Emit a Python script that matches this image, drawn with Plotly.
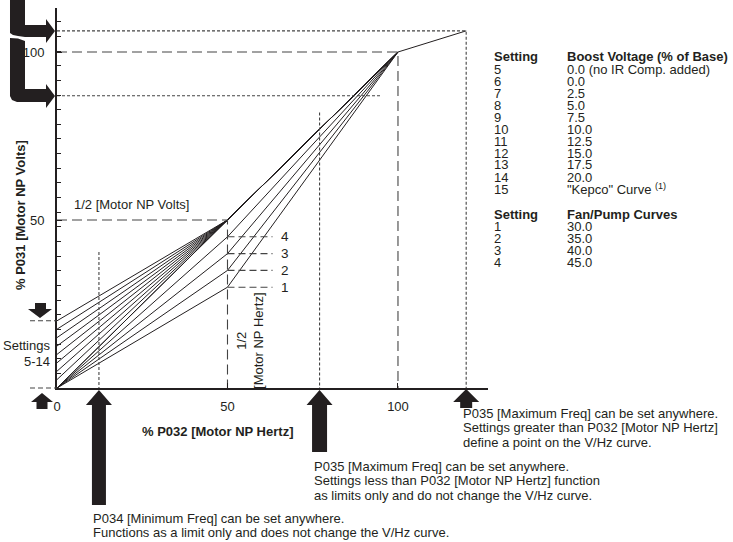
import plotly.graph_objects as go

# ---------------- data ----------------
boost_settings = ["5", "6", "7", "8", "9", "10", "11", "12", "13", "14", "15"]
boost_labels = ["0.0 (no IR Comp. added)", "0.0", "2.5", "5.0", "7.5", "10.0",
                "12.5", "15.0", "17.5", "20.0", "\"Kepco\" Curve <sup>(1)</sup>"]
boost_values = [0.0, 0.0, 2.5, 5.0, 7.5, 10.0, 12.5, 15.0, 17.5, 20.0]
fan_settings = ["1", "2", "3", "4"]
fan_labels = ["30.0", "35.0", "40.0", "45.0"]
fan_values = [30.0, 35.0, 40.0, 45.0]

half_hz, half_volts = 50, 50          # 1/2 motor NP Hertz / Volts
np_hz, np_volts = 100, 100            # motor NP Hertz / Volts
max_freq_hi, max_volts_hi = 120, 106.3   # P035 above NP Hz
max_freq_lo, max_freq_lo_top = 77, 82     # P035 below NP Hz
lo_volts_line, lo_volts_line_end = 87, 95
min_freq, min_freq_top = 12.3, 40.5

x_ticks = [0, 50, 100]
y_ticks = [50, 100]

# ---------------- layout geometry ----------------
W, H = 733, 542
ML, MR, MT, MB = 57, 245, 8, 154
PW, PH = W - ML - MR, H - MT - MB
X_MAX, Y_MAX = 126.4, 113.1
FONT = "Liberation Sans, Arial, Helvetica, sans-serif"
INK = "#231f20"


def px(x):  # pixel x -> paper
    return (x - ML) / PW


def py(y):  # pixel y -> paper
    return (H - MB - y) / PH


def dx(v):  # data x -> pixel x
    return ML + v / X_MAX * PW


fig = go.Figure()

# boost curves (settings 5-14)
for b in boost_values:
    fig.add_trace(go.Scatter(x=[0, half_hz, np_hz], y=[b, half_volts, np_volts],
                             mode="lines", line=dict(color=INK, width=1),
                             hoverinfo="skip", showlegend=False))
# fan/pump curves (settings 1-4)
for f in fan_values:
    fig.add_trace(go.Scatter(x=[0, half_hz, np_hz], y=[0, f, np_volts],
                             mode="lines", line=dict(color=INK, width=1),
                             hoverinfo="skip", showlegend=False))
# extension beyond NP Hz
fig.add_trace(go.Scatter(x=[np_hz, max_freq_hi], y=[np_volts, max_volts_hi],
                         mode="lines", line=dict(color=INK, width=1),
                         hoverinfo="skip", showlegend=False))


def guide(xs, ys, dash, color="#444", width=1.1):
    fig.add_trace(go.Scatter(x=xs, y=ys, mode="lines",
                             line=dict(color=color, width=width, dash=dash),
                             hoverinfo="skip", showlegend=False))


LONG = "10px,5px"
DOT = "3px,2px"
MID = "7px,4px"
guide([0, half_hz, half_hz], [half_volts, half_volts, 0], LONG)
guide([0, np_hz, np_hz], [np_volts, np_volts, 0], LONG)
guide([0, max_freq_hi, max_freq_hi], [max_volts_hi, max_volts_hi, 0], DOT)
guide([0, lo_volts_line_end], [lo_volts_line, lo_volts_line], DOT)
guide([max_freq_lo, max_freq_lo], [max_freq_lo_top, 0], DOT)
guide([min_freq, min_freq], [min_freq_top, 0], DOT)
for f in fan_values:
    guide([half_hz, half_hz + 13.2], [f, f], MID)

annotations = []
for s, f in zip(fan_settings, fan_values):
    annotations.append(dict(x=half_hz + 16.8, y=f, xref="x", yref="y", text=s,
                            showarrow=False, xanchor="center", yanchor="middle",
                            font=dict(size=13.5, color=INK)))
annotations.append(dict(x=4.4, y=54.5, xref="x", yref="y", text="1/2 [Motor NP Volts]",
                        showarrow=False, xanchor="left", yanchor="middle",
                        font=dict(size=13, color=INK)))
annotations.append(dict(x=half_hz + 6.8, y=14.2, xref="x", yref="y",
                        text="1/2<br>[Motor NP Hertz]", textangle=-90,
                        showarrow=False, xanchor="center", yanchor="middle",
                        font=dict(size=13, color=INK)))

# axis titles
annotations.append(dict(x=px(20), y=py(215), xref="paper", yref="paper",
                        text="<b>% P031 [Motor NP Volts]</b>", textangle=-90,
                        xanchor="center", yanchor="middle",
                        showarrow=False, font=dict(size=13, color=INK)))
annotations.append(dict(x=px(217), y=py(432), xref="paper", yref="paper",
                        text="<b>% P032 [Motor NP Hertz]</b>",
                        xanchor="center", yanchor="middle",
                        showarrow=False, font=dict(size=13, color=INK)))
annotations.append(dict(x=px(52), y=py(345), xref="paper", yref="paper",
                        text="Settings", xanchor="right", yanchor="middle",
                        showarrow=False, font=dict(size=13, color=INK)))
annotations.append(dict(x=px(52), y=py(361), xref="paper", yref="paper",
                        text="5-14", xanchor="right", yanchor="middle",
                        showarrow=False, font=dict(size=13, color=INK)))


def text_at(x, y, t, bold=False, size=13):
    annotations.append(dict(x=px(x), y=py(y), xref="paper", yref="paper",
                            text=f"<b>{t}</b>" if bold else t, xanchor="left",
                            yanchor="middle", showarrow=False, borderpad=0,
                            font=dict(size=size, color=INK)))


# right-hand table
text_at(493, 57, "Setting", bold=True)
text_at(566, 57, "Boost Voltage (% of Base)", bold=True)
for i, (s, lab) in enumerate(zip(boost_settings, boost_labels)):
    text_at(493, 69 + 12 * i, s)
    text_at(566, 69 + 12 * i, lab)
text_at(493, 214, "Setting", bold=True)
text_at(566, 214, "Fan/Pump Curves", bold=True)
for i, (s, lab) in enumerate(zip(fan_settings, fan_labels)):
    text_at(493, 226 + 12 * i, s)
    text_at(566, 226 + 12 * i, lab)

# notes
note_hi = ["P035 [Maximum Freq] can be set anywhere.",
           "Settings greater than P032 [Motor NP Hertz]",
           "define a point on the V/Hz curve."]
note_lo = ["P035 [Maximum Freq] can be set anywhere.",
           "Settings less than P032 [Motor NP Hertz] function",
           "as limits only and do not change the V/Hz curve."]
note_min = ["P034 [Minimum Freq] can be set anywhere.",
            "Functions as a limit only and does not change the V/Hz curve."]
for i, t in enumerate(note_hi):
    text_at(462, 413 + 14.7 * i, t)
for i, t in enumerate(note_lo):
    text_at(313, 466 + 14.7 * i, t)
for i, t in enumerate(note_min):
    text_at(92, 518 + 14.7 * i, t)

# ---------------- decorative arrows (pixel geometry -> paper) ----------------


def path(points):
    out = []
    for i, (a, b) in enumerate(points):
        out.append(("M" if i == 0 else "L") + f"{px(a):.5f},{py(b):.5f}")
    return " ".join(out) + " Z"


def up_arrow(cx, tip, head_base, hw, sw, bottom):
    return path([(cx, tip), (cx + hw, head_base), (cx + sw, head_base), (cx + sw, bottom),
                 (cx - sw, bottom), (cx - sw, head_base), (cx - hw, head_base)])


shapes = []


def solid(p):
    shapes.append(dict(type="path", path=p, xref="paper", yref="paper",
                       fillcolor=INK, line=dict(width=0), layer="above"))


solid(up_arrow(dx(min_freq), 390, 405, 13, 7, 505))
solid(up_arrow(dx(max_freq_lo), 390, 405, 13, 7.5, 452))
solid(up_arrow(dx(max_freq_hi), 389, 402, 13, 6, 408))
solid(up_arrow(42, 393, 402, 11, 5.5, 409))
# down arrow (top of settings 5-14)
solid(path([(40, 318), (52, 309), (46, 309), (46, 303), (35, 303), (35, 309), (28, 309)]))
# bracket arrows at top-left
solid(path([(10, 0), (25, 0), (25, 25), (46, 25), (46, 19), (55, 31), (46, 43), (46, 37),
            (25, 37), (18, 36), (13, 35), (10, 33)]))
solid(path([(10, 38), (18, 38.5), (25, 41), (25, 89), (46, 89), (46, 84), (55, 96), (46, 108),
            (46, 102), (17, 102), (12, 100), (10, 96)]))

# short dashed markers left of the axis
for yy in (boost_values[-1], 0):
    ypx = H - MB - yy / Y_MAX * PH
    shapes.append(dict(type="line", xref="paper", yref="paper",
                       x0=px(30), x1=px(ML), y0=py(ypx), y1=py(ypx),
                       line=dict(color="#444", width=1.1, dash="5px,3px")))

fig.update_layout(
    width=W, height=H,
    margin=dict(l=ML, r=MR, t=MT, b=MB, pad=0),
    paper_bgcolor="white", plot_bgcolor="white",
    font=dict(family=FONT, color=INK, size=12),
    showlegend=False,
    annotations=annotations,
    shapes=shapes,
    xaxis=dict(range=[0, X_MAX], showgrid=False, zeroline=False,
               showline=True, linecolor=INK, linewidth=2,
               tickmode="array", tickvals=x_ticks, ticktext=[str(v) for v in x_ticks],
               ticks="inside", ticklen=5, tickwidth=1.2, tickcolor=INK,
               ticklabelstandoff=5, tickfont=dict(size=13, color=INK),
               fixedrange=True),
    yaxis=dict(range=[0, Y_MAX], showgrid=False, zeroline=False,
               showline=True, linecolor=INK, linewidth=2,
               tickmode="array", tickvals=y_ticks, ticktext=[str(v) for v in y_ticks],
               ticks="inside", ticklen=5, tickwidth=1.2, tickcolor=INK,
               ticklabelstandoff=8, tickfont=dict(size=13, color=INK),
               minor=dict(tick0=0, dtick=4.36, ticks="inside", ticklen=4,
                          tickwidth=1, tickcolor=INK, showgrid=False),
               fixedrange=True),
)

fig.write_html("out.html", config={"displayModeBar": False},
               post_script="document.body.style.margin='0px';")
